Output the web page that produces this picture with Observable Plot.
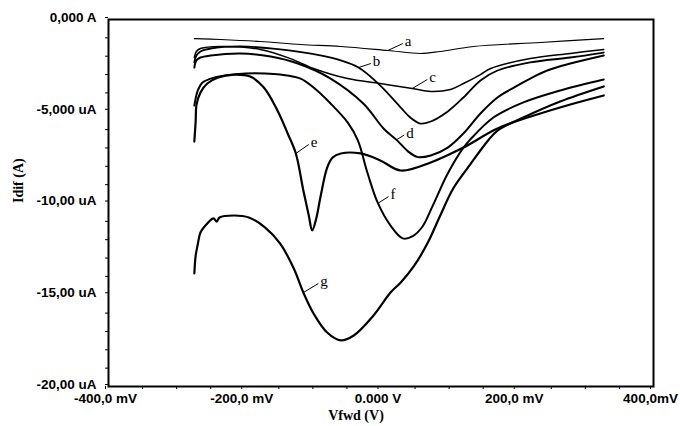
<!DOCTYPE html>
<html><head><meta charset="utf-8">
<script src="https://cdn.jsdelivr.net/npm/d3@7"></script>
<script src="https://cdn.jsdelivr.net/npm/@observablehq/plot@0.6"></script>
<style>
body{margin:0;background:#fff}
#chart svg{display:block}
</style>
</head><body><div id="chart"></div>
<script>
// Potential (mV) and current (µA) for each curve
const aV=[-274,-236,-177,-118,-59,10,58,87,136,234,327];
const aI=[-1.04,-1.09,-1.20,-1.36,-1.47,-1.69,-1.85,-1.74,-1.47,-1.25,-1.04];
const bV=[-274,-271,-265,-250,-206,-148,-89,-59,-33,-1,29,43,58,73,98,121,146,171,219,278,327];
const bI=[-2.34,-1.96,-1.74,-1.58,-1.47,-1.63,-1.96,-2.23,-2.62,-3.60,-4.80,-5.34,-5.67,-5.56,-5.01,-4.25,-3.32,-2.78,-2.34,-2.07,-1.80];
const cV=[-274,-271,-265,-236,-177,-133,-99,-49,-1,46,73,102,121,146,161,219,278,327];
const cI=[-2.07,-1.74,-1.58,-1.47,-1.63,-2.13,-2.67,-3.22,-3.49,-3.76,-3.92,-3.81,-3.49,-3.00,-2.67,-2.13,-1.85,-1.63];
const dV=[-274,-271,-265,-250,-206,-162,-122,-74,-26,4,24,40,54,73,98,121,146,171,195,219,244,278,327];
const dI=[-2.62,-2.23,-2.07,-1.96,-1.85,-2.02,-2.40,-3.22,-4.58,-5.95,-6.60,-7.20,-7.50,-7.41,-6.98,-6.21,-5.12,-4.25,-3.71,-3.22,-2.78,-2.40,-1.96];
const eV=[-274,-272,-271,-265,-255,-239,-214,-192,-172,-152,-137,-125,-114,-106,-101,-95,-89,-79,-71,-59,-30,-1,29,73,121,171,234,278,327];
const eI=[-6.65,-5.50,-4.69,-3.98,-3.49,-3.16,-3.00,-3.11,-3.71,-4.96,-6.21,-7.30,-9.32,-10.68,-11.50,-10.84,-9.70,-8.07,-7.52,-7.30,-7.30,-7.68,-8.23,-7.79,-6.98,-5.94,-5.12,-4.63,-4.14];
const fV=[-274,-269,-262,-250,-228,-199,-170,-148,-118,-99,-74,-49,-34,-20,-5,14,32,46,61,76,98,121,131,165,209,263,327];
const fI=[-4.69,-3.87,-3.43,-3.22,-3.05,-2.94,-2.94,-3.00,-3.22,-3.71,-4.58,-5.61,-6.59,-8.34,-9.97,-11.23,-11.93,-11.82,-11.28,-10.14,-8.39,-6.98,-6.54,-5.34,-4.52,-3.87,-3.27];
const gV=[-274,-272,-269,-265,-255,-246,-241,-237,-216,-194,-170,-148,-128,-114,-99,-79,-59,-40,-11,14,29,48,68,87,106,131,156,171,209,263,327];
const gI=[-13.84,-12.86,-12.26,-11.61,-11.12,-10.84,-11.01,-10.79,-10.68,-10.79,-11.34,-12.21,-13.57,-14.88,-16.02,-17.06,-17.49,-17.22,-16.13,-14.88,-14.33,-13.46,-12.21,-10.68,-9.21,-7.90,-6.65,-6.05,-5.34,-4.47,-3.65];

// Curve labels and their leader lines
const labelNames=["a","b","c","d","e","f","g"];
const leadV0=[10,-33,46,23,-125,-5,-114];
const leadI0=[-1.69,-2.62,-3.76,-6.55,-7.30,-10.03,-14.88];
const leadV1=[32,-15,68,34,-106,11,-92];
const leadI1=[-1.31,-2.40,-3.27,-6.30,-6.81,-9.65,-14.39];

// Axis ticks
const xTicks=[-400,-200,0,200,400];
const xTickLabels=["-400,0 mV","-200,0 mV","0.000 V","200,0 mV","400,0mV"];
const xMinor=[-350,-300,-250,-150,-100,-50,50,100,150,250,300,350];
const yTicks=[0,-5,-10,-15,-20];
const yTickLabels=["0,000 A","-5,000 uA","-10,00 uA","-15,00 uA","-20,00 uA"];
const yMinor=[-1,-2,-3,-4,-6,-7,-8,-9,-11,-12,-13,-14,-16,-17,-18,-19];

const curves=[
  {V:aV,I:aI,w:1.1},{V:bV,I:bI,w:1.8},{V:cV,I:cI,w:1.5},{V:dV,I:dI,w:2},
  {V:eV,I:eI,w:2.2},{V:fV,I:fI,w:2},{V:gV,I:gI,w:2.2}
];
const toRows=c=>c.V.map((v,i)=>({V:v,I:c.I[i]}));
const labels=labelNames.map((n,i)=>({n,x0:leadV0[i],y0:leadI0[i],x1:leadV1[i],y1:leadI1[i]}));

const sans="Liberation Sans, Arial, sans-serif";
const serif="Liberation Serif, Times New Roman, serif";

const chart=Plot.plot({
  width:680, height:426,
  marginLeft:108, marginRight:27, marginTop:19, marginBottom:40,
  style:{fontFamily:sans, fontSize:"13.5px", fontWeight:"bold", color:"black", background:"white"},
  x:{domain:[-400,400]},
  y:{domain:[-20,0]},
  marks:[
    ...curves.map(c=>Plot.line(toRows(c),{x:"V",y:"I",stroke:"black",strokeWidth:c.w,curve:"catmull-rom"})),
    Plot.link(labels,{x1:"x0",y1:"y0",x2:"x1",y2:"y1",stroke:"black",strokeWidth:1}),
    Plot.text(labels,{x:"x1",y:"y1",text:"n",textAnchor:"start",dx:2,dy:-2,fontFamily:serif,fontSize:15,fontWeight:"normal",fill:"black"}),
    Plot.axisY({ticks:yMinor,tickSize:3,tickFormat:()=>"",label:null}),
    Plot.axisY({ticks:yTicks,tickSize:3,tickPadding:9,dy:-2,tickFormat:d=>yTickLabels[yTicks.indexOf(d)],label:null}),
    Plot.axisX({ticks:xMinor,tickSize:3,tickFormat:()=>"",label:null}),
    Plot.axisX({ticks:xTicks,tickSize:3,tickPadding:4,tickFormat:d=>xTickLabels[xTicks.indexOf(d)],dx:-3,label:null}),
    Plot.frame({stroke:"black",strokeWidth:2}),
    Plot.text(["Idif (A)"],{frameAnchor:"left",rotate:-90,dx:-90,fontFamily:serif,fontWeight:"bold",fontSize:14,fill:"black"}),
    Plot.text(["Vfwd (V)"],{frameAnchor:"bottom",dx:-25,dy:33,fontFamily:serif,fontWeight:"bold",fontSize:14,fill:"black"})
  ]
});
document.getElementById("chart").appendChild(chart);
</script></body></html>
